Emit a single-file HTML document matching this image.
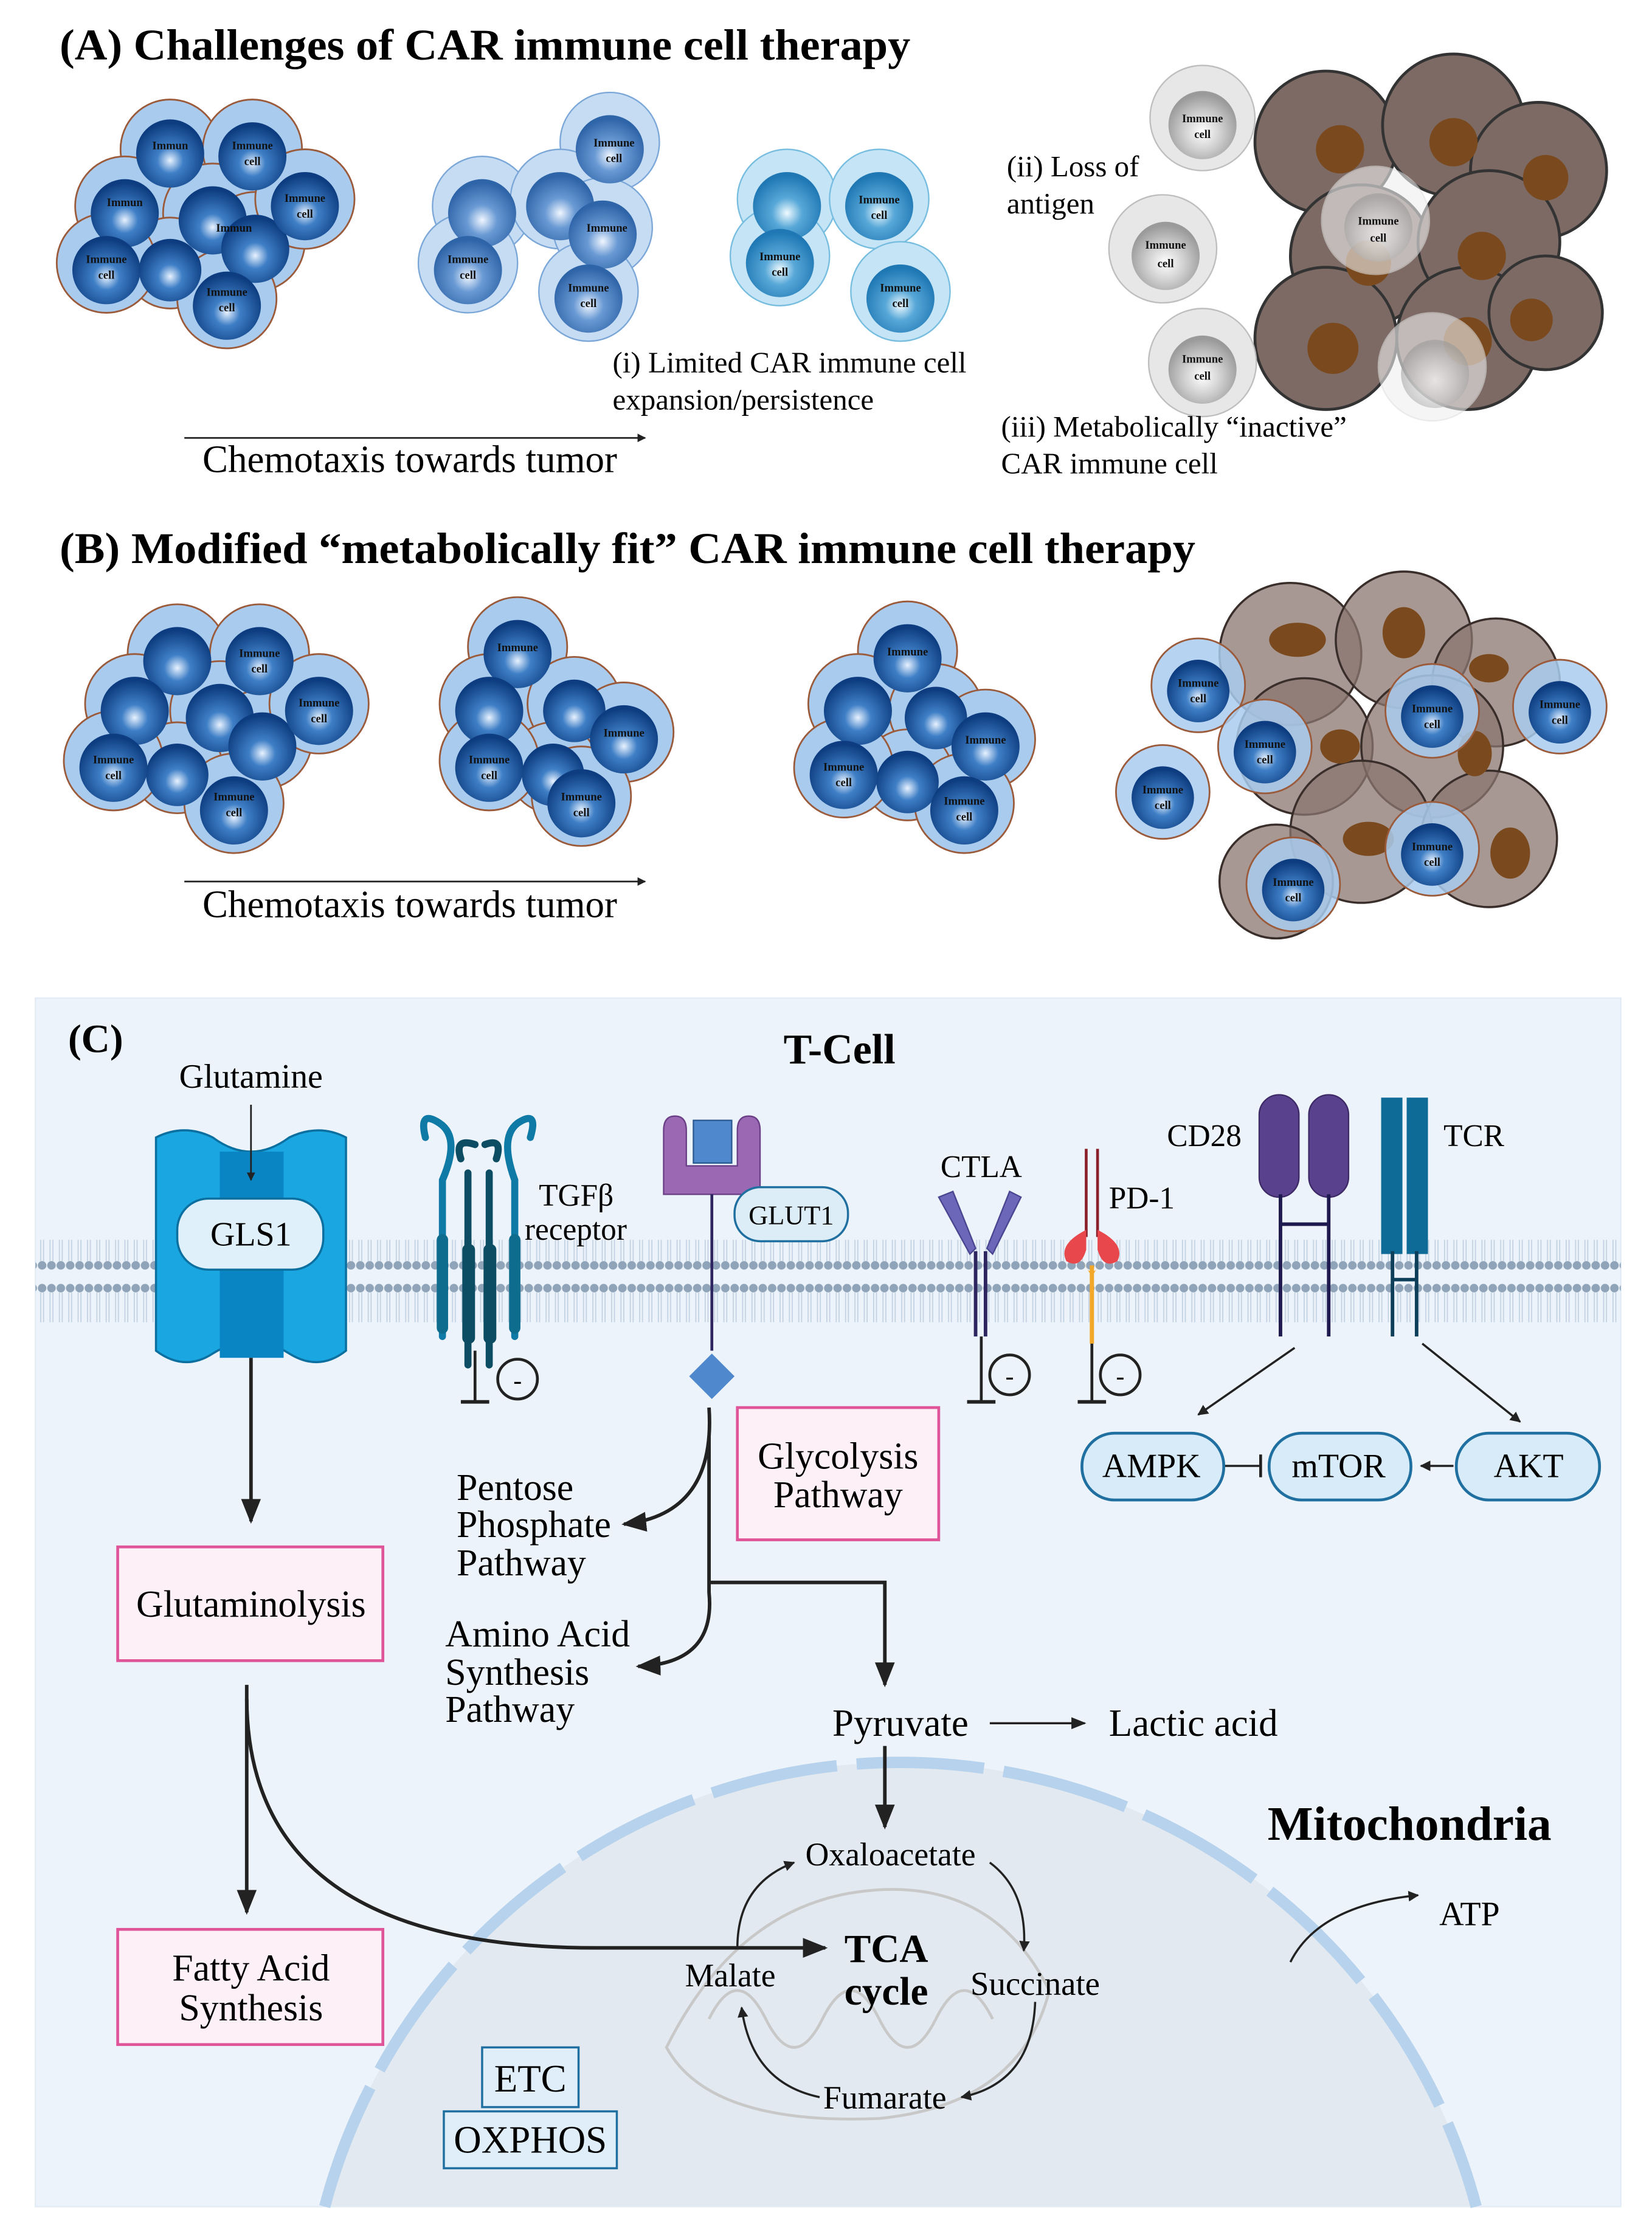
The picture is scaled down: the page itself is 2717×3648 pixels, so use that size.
<!DOCTYPE html>
<html><head><meta charset="utf-8"><style>
html,body{margin:0;padding:0;background:#fff;width:2717px;height:3648px;overflow:hidden}
svg{display:block}
text{font-family:"Liberation Serif",serif}
.ct{font-size:8px;font-weight:bold;fill:#111;text-anchor:middle}
</style></head><body>
<svg width="2717" height="3648" viewBox="0 0 1165 1560" preserveAspectRatio="none" xmlns="http://www.w3.org/2000/svg">
<defs>
<radialGradient id="nuc" cx="50%" cy="60%" r="55%"><stop offset="0" stop-color="#e8f2ff"/><stop offset="0.35" stop-color="#3f7fc6"/><stop offset="1" stop-color="#0d3d80"/></radialGradient>
<radialGradient id="nucp" cx="50%" cy="60%" r="55%"><stop offset="0" stop-color="#f0f6ff"/><stop offset="0.4" stop-color="#6a9ad4"/><stop offset="1" stop-color="#2e64a8"/></radialGradient>
<radialGradient id="nucc" cx="50%" cy="60%" r="55%"><stop offset="0" stop-color="#f0fbff"/><stop offset="0.4" stop-color="#58a8d8"/><stop offset="1" stop-color="#1f78b4"/></radialGradient>
<radialGradient id="nucg" cx="50%" cy="60%" r="55%"><stop offset="0" stop-color="#ffffff"/><stop offset="0.5" stop-color="#cfcfcf"/><stop offset="1" stop-color="#9a9a9a"/></radialGradient>
<pattern id="lip" x="0" y="0" width="6.6" height="60" patternUnits="userSpaceOnUse">
<circle cx="3.3" cy="6" r="3" fill="#8fa4b8"/><circle cx="3.3" cy="50" r="3" fill="#8fa4b8"/>
<line x1="2.3" y1="9" x2="2.3" y2="47" stroke="#c4d3e3" stroke-width="0.8"/><line x1="4.3" y1="9" x2="4.3" y2="47" stroke="#c4d3e3" stroke-width="0.8"/>
</pattern>
<marker id="ah" viewBox="0 0 10 10" refX="9" refY="5" markerWidth="5" markerHeight="5" orient="auto"><path d="M0,0 L10,5 L0,10 z" fill="#222"/></marker>
<marker id="ahs" viewBox="0 0 10 10" refX="9" refY="5" markerWidth="7" markerHeight="7" orient="auto"><path d="M0,1 L10,5 L0,9 z" fill="#222"/></marker>
</defs>
<rect width="1165" height="1560" fill="#fff"/>

<!-- Panel A -->
<text x="42" y="42" font-size="31" font-weight="bold" textLength="600" lengthAdjust="spacingAndGlyphs">(A) Challenges of CAR immune cell therapy</text>
<g stroke="#9b5a3a" stroke-width="1.2">
<g fill="#a9cbee"><circle cx="120" cy="105" r="35"/><circle cx="178" cy="105" r="35"/><circle cx="88" cy="145" r="35"/><circle cx="150" cy="150" r="35"/><circle cx="180" cy="170" r="35"/><circle cx="215" cy="140" r="35"/><circle cx="120" cy="185" r="32"/><circle cx="75" cy="185" r="35"/><circle cx="160" cy="210" r="35"/></g>
</g>
<g fill="url(#nuc)"><circle cx="120" cy="108" r="24"/><circle cx="178" cy="110" r="24"/><circle cx="88" cy="150" r="24"/><circle cx="150" cy="155" r="24"/><circle cx="180" cy="175" r="24"/><circle cx="215" cy="145" r="24"/><circle cx="120" cy="190" r="22"/><circle cx="75" cy="190" r="24"/><circle cx="160" cy="215" r="24"/></g>
<g class="ct"><text x="120" y="105">Immun</text><text x="178" y="105">Immune</text><text x="178" y="116">cell</text><text x="88" y="145">Immun</text><text x="215" y="142">Immune</text><text x="215" y="153">cell</text><text x="75" y="185">Immune</text><text x="75" y="196">cell</text><text x="160" y="208">Immune</text><text x="160" y="219">cell</text><text x="165" y="163">Immun</text></g>

<g fill="#c6dcf3" stroke="#7ba7d8"><circle cx="430" cy="100" r="35"/><circle cx="340" cy="145" r="35"/><circle cx="395" cy="140" r="35"/><circle cx="425" cy="160" r="35"/><circle cx="330" cy="185" r="35"/><circle cx="415" cy="205" r="35"/></g>
<g fill="url(#nucp)"><circle cx="430" cy="105" r="24"/><circle cx="340" cy="150" r="24"/><circle cx="395" cy="145" r="24"/><circle cx="425" cy="165" r="24"/><circle cx="330" cy="190" r="24"/><circle cx="415" cy="210" r="24"/></g>
<g class="ct" fill="#1a3a7a"><text x="433" y="103">Immune</text><text x="433" y="114">cell</text><text x="428" y="163">Immune</text><text x="330" y="185">Immune</text><text x="330" y="196">cell</text><text x="415" y="205">Immune</text><text x="415" y="216">cell</text></g>

<g fill="#c5e4f5" stroke="#76bde0"><circle cx="555" cy="140" r="35"/><circle cx="620" cy="140" r="35"/><circle cx="550" cy="180" r="35"/><circle cx="635" cy="205" r="35"/></g>
<g fill="url(#nucc)"><circle cx="555" cy="145" r="24"/><circle cx="620" cy="145" r="24"/><circle cx="550" cy="185" r="24"/><circle cx="635" cy="210" r="24"/></g>
<g class="ct"><text x="620" y="143">Immune</text><text x="620" y="154">cell</text><text x="550" y="183">Immune</text><text x="550" y="194">cell</text><text x="635" y="205">Immune</text><text x="635" y="216">cell</text></g>

<text x="432" y="262" font-size="21">(i) Limited CAR immune cell</text>
<text x="432" y="288" font-size="21">expansion/persistence</text>
<line x1="130" y1="308" x2="455" y2="308" stroke="#222" stroke-width="1.2" marker-end="url(#ah)"/>
<text x="289" y="332" font-size="27" text-anchor="middle">Chemotaxis towards tumor</text>

<g fill="#7d6a64" stroke="#333" stroke-width="2"><circle cx="935" cy="100" r="50"/><circle cx="1025" cy="88" r="50"/><circle cx="1085" cy="120" r="48"/><circle cx="960" cy="180" r="50"/><circle cx="1050" cy="170" r="50"/><circle cx="935" cy="238" r="50"/><circle cx="1035" cy="238" r="50"/><circle cx="1090" cy="220" r="40"/></g>
<g fill="#7a4a1e"><circle cx="945" cy="105" r="17"/><circle cx="1025" cy="100" r="17"/><circle cx="1090" cy="125" r="16"/><circle cx="965" cy="185" r="16"/><circle cx="1045" cy="180" r="17"/><circle cx="940" cy="245" r="18"/><circle cx="1035" cy="240" r="17"/><circle cx="1080" cy="225" r="15"/></g>
<g fill="#e6e6e6" stroke="#bbb" opacity="0.95"><circle cx="848" cy="83" r="37"/><circle cx="820" cy="175" r="38"/><circle cx="848" cy="255" r="38"/></g>
<g fill="#f0f0f0" stroke="#ddd" opacity="0.6"><circle cx="970" cy="155" r="38"/><circle cx="1010" cy="258" r="38"/></g>
<g fill="url(#nucg)"><circle cx="848" cy="88" r="24"/><circle cx="822" cy="180" r="24"/><circle cx="848" cy="260" r="24"/><circle cx="972" cy="160" r="24" opacity="0.6"/><circle cx="1012" cy="263" r="24" opacity="0.6"/></g>
<g class="ct" fill="#666"><text x="848" y="86">Immune</text><text x="848" y="97">cell</text><text x="822" y="175">Immune</text><text x="822" y="188">cell</text><text x="848" y="255">Immune</text><text x="848" y="267">cell</text><text x="972" y="158">Immune</text><text x="972" y="170">cell</text></g>
<text x="710" y="124" font-size="21">(ii) Loss of</text>
<text x="710" y="150" font-size="21">antigen</text>
<text x="706" y="307" font-size="21">(iii) Metabolically “inactive”</text>
<text x="706" y="333" font-size="21">CAR immune cell</text>

<!-- Panel B -->
<text x="42" y="396" font-size="31" font-weight="bold" textLength="801" lengthAdjust="spacingAndGlyphs">(B) Modified “metabolically fit” CAR immune cell therapy</text>
<g stroke="#9b5a3a" stroke-width="1.2" fill="#a9cbee">
<circle cx="125" cy="460" r="35"/><circle cx="183" cy="460" r="35"/><circle cx="95" cy="495" r="35"/><circle cx="155" cy="500" r="35"/><circle cx="185" cy="520" r="35"/><circle cx="225" cy="495" r="35"/><circle cx="125" cy="540" r="32"/><circle cx="80" cy="535" r="35"/><circle cx="165" cy="565" r="35"/>
<circle cx="365" cy="455" r="35"/><circle cx="345" cy="495" r="35"/><circle cx="405" cy="495" r="33"/><circle cx="440" cy="515" r="35"/><circle cx="390" cy="540" r="32"/><circle cx="345" cy="535" r="35"/><circle cx="410" cy="560" r="35"/>
<circle cx="640" cy="458" r="35"/><circle cx="605" cy="495" r="35"/><circle cx="660" cy="500" r="33"/><circle cx="695" cy="520" r="35"/><circle cx="640" cy="545" r="32"/><circle cx="595" cy="540" r="35"/><circle cx="680" cy="565" r="35"/>
</g>
<g fill="url(#nuc)">
<circle cx="125" cy="465" r="24"/><circle cx="183" cy="465" r="24"/><circle cx="95" cy="500" r="24"/><circle cx="155" cy="505" r="24"/><circle cx="185" cy="525" r="24"/><circle cx="225" cy="500" r="24"/><circle cx="125" cy="545" r="22"/><circle cx="80" cy="540" r="24"/><circle cx="165" cy="570" r="24"/>
<circle cx="365" cy="460" r="24"/><circle cx="345" cy="500" r="24"/><circle cx="405" cy="500" r="22"/><circle cx="440" cy="520" r="24"/><circle cx="390" cy="545" r="22"/><circle cx="345" cy="540" r="24"/><circle cx="410" cy="565" r="24"/>
<circle cx="640" cy="463" r="24"/><circle cx="605" cy="500" r="24"/><circle cx="660" cy="505" r="22"/><circle cx="695" cy="525" r="24"/><circle cx="640" cy="550" r="22"/><circle cx="595" cy="545" r="24"/><circle cx="680" cy="570" r="24"/>
</g>
<g class="ct"><text x="183" y="462">Immune</text><text x="183" y="473">cell</text><text x="225" y="497">Immune</text><text x="225" y="508">cell</text><text x="80" y="537">Immune</text><text x="80" y="548">cell</text><text x="165" y="563">Immune</text><text x="165" y="574">cell</text>
<text x="365" y="458">Immune</text><text x="440" y="518">Immune</text><text x="345" y="537">Immune</text><text x="345" y="548">cell</text><text x="410" y="563">Immune</text><text x="410" y="574">cell</text>
<text x="640" y="461">Immune</text><text x="695" y="523">Immune</text><text x="595" y="542">Immune</text><text x="595" y="553">cell</text><text x="680" y="566">Immune</text><text x="680" y="577">cell</text></g>
<line x1="130" y1="620" x2="455" y2="620" stroke="#222" stroke-width="1.2" marker-end="url(#ah)"/>
<text x="289" y="645" font-size="27" text-anchor="middle">Chemotaxis towards tumor</text>

<g fill="#8a7670" fill-opacity="0.75" stroke="#3a2e2a" stroke-width="1.5"><circle cx="910" cy="460" r="50"/><circle cx="990" cy="450" r="48"/><circle cx="1055" cy="480" r="45"/><circle cx="920" cy="525" r="48"/><circle cx="1010" cy="525" r="50"/><circle cx="960" cy="585" r="50"/><circle cx="1050" cy="590" r="48"/><circle cx="900" cy="620" r="40"/></g>
<g fill="#7a4a1e"><ellipse cx="915" cy="450" rx="20" ry="12"/><ellipse cx="990" cy="445" rx="15" ry="18"/><ellipse cx="1050" cy="470" rx="14" ry="10"/><ellipse cx="945" cy="525" rx="14" ry="12"/><ellipse cx="1040" cy="530" rx="12" ry="16"/><ellipse cx="965" cy="590" rx="18" ry="12"/><ellipse cx="1065" cy="600" rx="14" ry="18"/></g>
<g stroke="#9b5a3a" stroke-width="1.2" fill="#a9cbee" fill-opacity="0.85"><circle cx="845" cy="482" r="33"/><circle cx="820" cy="557" r="33"/><circle cx="892" cy="525" r="33"/><circle cx="1010" cy="500" r="33"/><circle cx="1100" cy="497" r="33"/><circle cx="1010" cy="597" r="33"/><circle cx="912" cy="622" r="33"/></g>
<g fill="url(#nuc)"><circle cx="845" cy="486" r="22"/><circle cx="820" cy="561" r="22"/><circle cx="892" cy="529" r="22"/><circle cx="1010" cy="504" r="22"/><circle cx="1100" cy="501" r="22"/><circle cx="1010" cy="601" r="22"/><circle cx="912" cy="626" r="22"/></g>
<g class="ct"><text x="845" y="483">Immune</text><text x="845" y="494">cell</text><text x="820" y="558">Immune</text><text x="820" y="569">cell</text><text x="892" y="526">Immune</text><text x="892" y="537">cell</text><text x="1010" y="501">Immune</text><text x="1010" y="512">cell</text><text x="1100" y="498">Immune</text><text x="1100" y="509">cell</text><text x="1010" y="598">Immune</text><text x="1010" y="609">cell</text><text x="912" y="623">Immune</text><text x="912" y="634">cell</text></g>

<!-- Panel C -->
<rect x="25" y="702" width="1118" height="850" fill="#edf3fa" stroke="#e3ecf6"/>
<path d="M229 1552 A420 420 0 0 1 1041 1552 Z" fill="#e2e9f0"/>
<path d="M229 1552 A420 420 0 0 1 1041 1552" fill="none" stroke="#b7d2ec" stroke-width="8" stroke-dasharray="90 14"/>
<g fill="none" stroke="#c8c8c8" stroke-width="2"><path d="M470 1440 Q520 1340 610 1330 Q700 1320 740 1400 Q720 1480 620 1490 Q500 1495 470 1440 z"/><path d="M500 1420 q20 -40 40 0 q20 40 40 0 q20 -40 40 0 q20 40 40 0 q20 -40 40 0"/></g>
<rect x="25" y="872" width="1118" height="58" fill="url(#lip)"/>
<text x="48" y="740" font-size="28" font-weight="bold">(C)</text>
<text x="592" y="748" font-size="30" font-weight="bold" text-anchor="middle">T-Cell</text>
<text x="177" y="765" font-size="24" text-anchor="middle">Glutamine</text>
<!-- GLS1 -->
<path d="M110 800 Q130 790 150 800 Q177 820 204 800 Q225 790 244 800 L244 950 Q225 965 204 952 Q177 935 150 952 Q130 965 110 950 z" fill="#1aa6e0" stroke="#0b6fa0" stroke-width="1.5"/>
<rect x="155" y="810" width="45" height="145" fill="#0a85c4"/>
<rect x="125" y="843" width="103" height="50" rx="22" fill="#e0f0fa" stroke="#0b6fa0" stroke-width="1.5"/>
<text x="177" y="876" font-size="24" text-anchor="middle">GLS1</text>
<line x1="177" y1="777" x2="177" y2="830" stroke="#222" stroke-width="1.2" marker-end="url(#ah)"/>
<!-- TGFb -->
<g stroke-width="5" fill="none" stroke-linecap="round"><path d="M300 800 Q295 780 310 790 M310 790 Q325 800 312 830 L312 940" stroke="#0f7aa5"/><path d="M374 800 Q380 780 365 790 M365 790 Q352 800 363 830 L363 940" stroke="#0f7aa5"/><path d="M325 815 Q320 800 335 805 M330 825 L330 960" stroke="#0d4d63"/><path d="M350 815 Q355 800 342 805 M345 825 L345 960" stroke="#0d4d63"/></g>
<g fill="#0e6c8f"><rect x="308" y="868" width="8" height="70" rx="4"/><rect x="359" y="868" width="8" height="70" rx="4"/></g>
<g fill="#0d4d63"><rect x="326" y="875" width="9" height="70" rx="4"/><rect x="341" y="875" width="9" height="70" rx="4"/></g>
<text x="380" y="848" font-size="22">TGFβ</text><text x="370" y="872" font-size="22">receptor</text>
<line x1="335" y1="950" x2="335" y2="985" stroke="#222" stroke-width="2"/><line x1="325" y1="986" x2="345" y2="986" stroke="#222" stroke-width="2.5"/>
<circle cx="365" cy="970" r="14" fill="none" stroke="#222" stroke-width="2"/><text x="365" y="977" font-size="18" text-anchor="middle">-</text>
<!-- GLUT1 -->
<path d="M468 795 Q468 785 476 785 Q484 785 484 795 L484 820 L520 820 L520 795 Q520 785 528 785 Q536 785 536 795 L536 840 L468 840 z" fill="#9b69b4" stroke="#6a3f87"/>
<rect x="489" y="788" width="27" height="30" fill="#4f88cc" stroke="#2c5a93"/>
<line x1="502" y1="840" x2="502" y2="950" stroke="#2c2560" stroke-width="2"/>
<path d="M502 952 L518 968 L502 984 L486 968 z" fill="#4f88cc"/>
<rect x="518" y="835" width="80" height="38" rx="18" fill="#dcedf8" stroke="#1f6fa0" stroke-width="1.5"/>
<text x="558" y="861" font-size="19" text-anchor="middle">GLUT1</text>
<!-- CTLA -->
<text x="692" y="828" font-size="22" text-anchor="middle">CTLA</text>
<path d="M662 842 L672 838 L688 878 L684 882 z M720 842 L712 838 L696 878 L700 882 z" fill="#6c67b8" stroke="#4a4590"/>
<g stroke="#2c2560" stroke-width="2.5"><line x1="688" y1="880" x2="688" y2="940"/><line x1="695" y1="880" x2="695" y2="940"/></g>
<line x1="692" y1="940" x2="692" y2="985" stroke="#222" stroke-width="2"/><line x1="682" y1="986" x2="702" y2="986" stroke="#222" stroke-width="2.5"/>
<circle cx="712" cy="967" r="14" fill="none" stroke="#222" stroke-width="2"/><text x="712" y="974" font-size="18" text-anchor="middle">-</text>
<!-- PD-1 -->
<g stroke="#8a1e2a" stroke-width="2"><line x1="766" y1="808" x2="766" y2="870"/><line x1="774" y1="808" x2="774" y2="870"/></g>
<path d="M766 865 q-20 10 -14 22 q10 6 14 -8 z M774 865 q20 10 14 22 q-10 6 -14 -8 z" fill="#e8474c"/>
<path d="M764 888 q6 12 6 0 q0 12 6 0 l-6 10 z" fill="#f3a82a"/><line x1="770" y1="890" x2="770" y2="945" stroke="#f3a82a" stroke-width="3"/>
<text x="782" y="850" font-size="22">PD-1</text>
<line x1="770" y1="945" x2="770" y2="985" stroke="#222" stroke-width="2"/><line x1="760" y1="986" x2="780" y2="986" stroke="#222" stroke-width="2.5"/>
<circle cx="790" cy="967" r="14" fill="none" stroke="#222" stroke-width="2"/><text x="790" y="974" font-size="18" text-anchor="middle">-</text>
<!-- CD28 -->
<text x="823" y="806" font-size="22">CD28</text>
<rect x="888" y="770" width="28" height="72" rx="14" fill="#5a418e" stroke="#3d2a66"/><rect x="923" y="770" width="28" height="72" rx="14" fill="#5a418e" stroke="#3d2a66"/>
<g stroke="#1e1a50" stroke-width="2.5"><line x1="903" y1="840" x2="903" y2="940"/><line x1="937" y1="840" x2="937" y2="940"/><line x1="903" y1="861" x2="937" y2="861"/></g>
<!-- TCR -->
<text x="1018" y="806" font-size="22">TCR</text>
<rect x="974" y="772" width="15" height="110" fill="#0e6a96"/><rect x="992" y="772" width="15" height="110" fill="#0e6a96"/>
<g stroke="#0d3f5a" stroke-width="2.5"><line x1="982" y1="880" x2="982" y2="940"/><line x1="999" y1="880" x2="999" y2="940"/><line x1="982" y1="900" x2="999" y2="900"/></g>
<!-- arrows -->
<g stroke="#222" stroke-width="1.5" fill="none">
<line x1="913" y1="948" x2="845" y2="995" marker-end="url(#ah)"/>
<line x1="1003" y1="945" x2="1072" y2="1000" marker-end="url(#ah)"/>
<line x1="862" y1="1031" x2="888" y2="1031"/><line x1="889" y1="1023" x2="889" y2="1039" stroke-width="2"/>
<line x1="1025" y1="1031" x2="1002" y2="1031" marker-end="url(#ah)"/>
</g>
<g fill="#d8ebf8" stroke="#1f6fa0" stroke-width="2">
<rect x="763" y="1008" width="100" height="47" rx="23"/><rect x="895" y="1008" width="100" height="47" rx="23"/><rect x="1027" y="1008" width="101" height="47" rx="23"/>
</g>
<g font-size="24" text-anchor="middle"><text x="812" y="1039">AMPK</text><text x="944" y="1039">mTOR</text><text x="1078" y="1039">AKT</text></g>

<!-- pathways -->
<g stroke="#222" stroke-width="2.5" fill="none">
<line x1="177" y1="955" x2="177" y2="1070" marker-end="url(#ahs)"/>
<line x1="174" y1="1185" x2="174" y2="1345" marker-end="url(#ahs)"/>
<path d="M174 1195 Q175 1370 420 1370 L582 1370" marker-end="url(#ahs)"/>
<path d="M500 990 Q505 1065 440 1072" marker-end="url(#ahs)"/>
<path d="M500 1010 L500 1120 Q505 1170 450 1172" marker-end="url(#ahs)"/>
<path d="M500 1113 L624 1113 L624 1185" marker-end="url(#ahs)"/>
<line x1="624" y1="1228" x2="624" y2="1285" marker-end="url(#ahs)"/>
</g>
<line x1="698" y1="1212" x2="765" y2="1212" stroke="#222" stroke-width="1.5" marker-end="url(#ahs)"/>
<g fill="#fdf0f6" stroke="#e0559a" stroke-width="2"><rect x="83" y="1088" width="187" height="80"/><rect x="83" y="1357" width="187" height="81"/><rect x="520" y="990" width="142" height="93"/></g>
<g font-size="26.5" text-anchor="middle"><text x="177" y="1137">Glutaminolysis</text><text x="177" y="1393">Fatty Acid</text><text x="177" y="1421">Synthesis</text><text x="591" y="1033">Glycolysis</text><text x="591" y="1060">Pathway</text></g>
<g font-size="26.5"><text x="322" y="1055">Pentose</text><text x="322" y="1081">Phosphate</text><text x="322" y="1108">Pathway</text><text x="314" y="1158">Amino Acid</text><text x="314" y="1185">Synthesis</text><text x="314" y="1211">Pathway</text></g>
<text x="635" y="1221" font-size="27" text-anchor="middle">Pyruvate</text>
<text x="782" y="1221" font-size="27">Lactic acid</text>
<text x="994" y="1294" font-size="34" font-weight="bold" text-anchor="middle">Mitochondria</text>
<path d="M910 1380 Q930 1340 1000 1333" stroke="#222" stroke-width="1.5" fill="none" marker-end="url(#ah)"/>
<text x="1015" y="1354" font-size="24">ATP</text>
<!-- TCA -->
<g stroke="#222" stroke-width="1.5" fill="none">
<path d="M520 1370 Q520 1325 560 1310" marker-end="url(#ah)"/>
<path d="M698 1310 Q725 1330 722 1372" marker-end="url(#ah)"/>
<path d="M730 1408 Q728 1465 678 1475" marker-end="url(#ah)"/>
<path d="M578 1475 Q530 1465 523 1412" marker-end="url(#ah)"/>
</g>
<text x="628" y="1312" font-size="23" text-anchor="middle">Oxaloacetate</text>
<text x="515" y="1397" font-size="23" text-anchor="middle">Malate</text>
<text x="730" y="1403" font-size="23.5" text-anchor="middle">Succinate</text>
<text x="624" y="1483" font-size="23" text-anchor="middle">Fumarate</text>
<text x="625" y="1380" font-size="28" font-weight="bold" text-anchor="middle">TCA</text>
<text x="625" y="1410" font-size="28" font-weight="bold" text-anchor="middle">cycle</text>
<g fill="#e0eef9" stroke="#1f6fa0" stroke-width="1.5"><rect x="340" y="1440" width="68" height="42"/><rect x="313" y="1485" width="122" height="40"/></g>
<text x="374" y="1471" font-size="27" text-anchor="middle">ETC</text>
<text x="374" y="1514" font-size="27" text-anchor="middle">OXPHOS</text>
</svg>
</body></html>
